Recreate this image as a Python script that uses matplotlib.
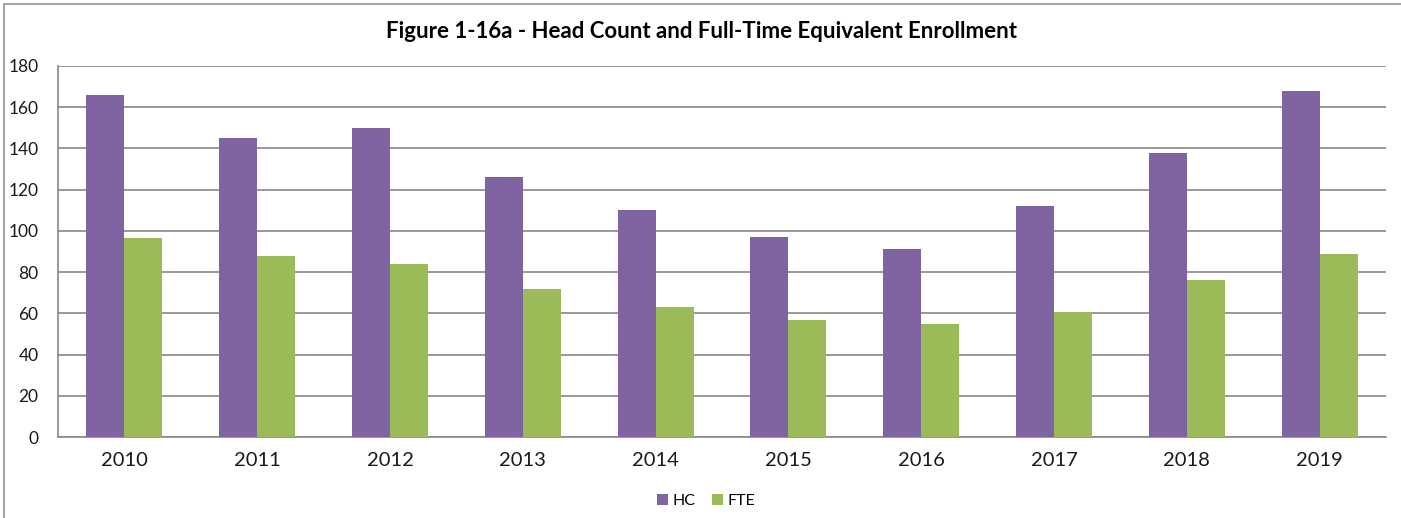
import matplotlib
matplotlib.use("Agg")
import matplotlib.pyplot as plt
import numpy as np
from matplotlib.patches import Rectangle

years = ["2010", "2011", "2012", "2013", "2014", "2015", "2016", "2017", "2018", "2019"]
hc = [166, 145, 150, 126, 110, 97, 91, 112, 138, 168]
fte = [96.5, 87.8, 84, 71.8, 63, 57, 55, 60.6, 76, 88.8]
yticks = [0, 20, 40, 60, 80, 100, 120, 140, 160, 180]

plt.rcParams['font.family'] = ['Lato', 'DejaVu Sans']

W, H = 1401, 518
fig = plt.figure(figsize=(W / 100, H / 100), dpi=100)
fig.patch.set_facecolor('white')

# outer chart border
fig.add_artist(Rectangle((4 / W, -0.01), 1.1, 1 - 4 / H + 0.01, transform=fig.transFigure,
                         fill=False, edgecolor='#a6a6a6', linewidth=1.5))

ax = fig.add_axes([58 / W, (H - 437) / H, (1386 - 58) / W, (437 - 66) / H])
x = np.arange(len(years))
bw = 0.286
ax.bar(x - bw / 2, hc, bw, color='#8064A2', label='HC', zorder=3)
ax.bar(x + bw / 2, fte, bw, color='#9BBB59', label='FTE', zorder=3)

ax.set_xlim(-0.5, len(years) - 0.5)
ax.set_ylim(0, 180)
ax.set_yticks(yticks)
ax.set_yticklabels([str(t) for t in yticks], fontsize=12.5)
ax.set_xticks(x)
ax.set_xticklabels(years, fontsize=14.5)
ax.tick_params(axis='both', length=0, colors='#1a1a1a')
ax.tick_params(axis='y', pad=14)
ax.tick_params(axis='x', pad=11)
ax.grid(axis='y', color='#878787', linewidth=1.2, zorder=0)
for s in ['top', 'right']:
    ax.spines[s].set_visible(False)
for s in ['left', 'bottom']:
    ax.spines[s].set_color('#878787')
    ax.spines[s].set_linewidth(1.2)

fig.text(702 / W, 1 - 32 / H, "Figure 1-16a - Head Count and Full-Time Equivalent Enrollment",
         ha='center', va='center', fontsize=16, fontweight='bold')

fig.legend(loc='center', bbox_to_anchor=(706 / W, 1 - 501 / H), ncol=2, frameon=False,
           fontsize=11.5, handlelength=0.7, handleheight=0.7, columnspacing=1.0, handletextpad=0.3)

fig.savefig('out.png', dpi=100)
